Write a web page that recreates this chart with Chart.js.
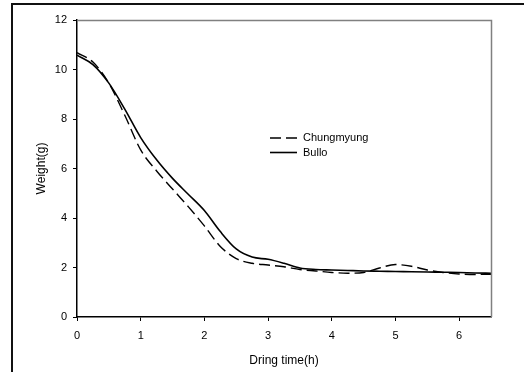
<!DOCTYPE html>
<html>
<head>
<meta charset="utf-8">
<script src="https://cdn.jsdelivr.net/npm/chart.js@4.4.0/dist/chart.umd.min.js"></script>
<style>
	html, body { margin: 0; padding: 0; background: #fff; }
	#wrap { position: relative; width: 524px; height: 372px; }
	#frame { position: absolute; left: 11px; top: 3px; width: 520px; height: 380px;
		border-top: 2px solid #111; border-left: 2px solid #111; }
	canvas { position: absolute; left: 0; top: 0; }
</style>
</head>
<body>
<div id="wrap">
	<div id="frame"></div>
	<canvas id="drying-chart" width="524" height="372"></canvas>
</div>
<script>
	/** 데이터 **/
	let times = [0, 0.25, 0.5, 0.75, 1, 1.25, 1.5, 1.75, 2, 2.25, 2.5, 2.75, 3, 3.25, 3.5, 3.75, 4, 4.25, 4.5, 4.75, 5, 5.25, 5.5, 5.75, 6, 6.25, 6.5];
	let chungmyung = [10.68, 10.3, 9.45, 8.15, 6.75, 5.9, 5.17, 4.45, 3.68, 2.85, 2.36, 2.17, 2.1, 2.03, 1.92, 1.86, 1.8, 1.77, 1.8, 1.98, 2.12, 2.05, 1.9, 1.8, 1.74, 1.72, 1.73];
	let bullo = [10.58, 10.2, 9.45, 8.4, 7.25, 6.35, 5.6, 4.95, 4.3, 3.45, 2.75, 2.42, 2.33, 2.17, 1.98, 1.92, 1.9, 1.88, 1.86, 1.85, 1.84, 1.83, 1.82, 1.81, 1.8, 1.78, 1.77];
	let seriesNames = ['Chungmyung', 'Bullo'];
	let xTitle = 'Dring time(h)';
	let yTitle = 'Weight(g)';

	let font = 'Liberation Sans, Arial, sans-serif';

	/** 차트 테두리 + 범례 **/
	const framePlugin = {
		id: 'framePlugin',
		afterDraw(chart) {
			const ctx = chart.ctx;
			const a = chart.chartArea;
			ctx.save();
			ctx.strokeStyle = '#808080';
			ctx.lineWidth = 1.5;
			ctx.beginPath();
			ctx.moveTo(a.left, a.top + 0.5);
			ctx.lineTo(a.right + 0.5, a.top + 0.5);
			ctx.lineTo(a.right + 0.5, a.bottom);
			ctx.stroke();

			// legend
			ctx.font = '11px ' + font;
			ctx.textBaseline = 'middle';
			ctx.fillStyle = '#000';
			chart.data.datasets.forEach(function(ds, i) {
				let y = 138 + i * 14.5;
				ctx.strokeStyle = '#000';
				ctx.lineWidth = ds.borderWidth;
				ctx.setLineDash(ds.borderDash || []);
				ctx.beginPath();
				ctx.moveTo(270, y);
				ctx.lineTo(297, y);
				ctx.stroke();
				ctx.setLineDash([]);
				ctx.fillText(ds.label, 303, y);
			});
			ctx.restore();
		}
	};

	let dryingChart = new Chart(document.getElementById('drying-chart'), {
		type: 'line',
		data: {
			datasets: [{
				label: seriesNames[0],
				data: times.map(function(t, i) { return {x: t, y: chungmyung[i]}; }),
				borderColor: '#000',
				borderWidth: 1.4,
				borderDash: [11, 5],
				pointRadius: 0,
				cubicInterpolationMode: 'monotone',
				fill: false
			}, {
				label: seriesNames[1],
				data: times.map(function(t, i) { return {x: t, y: bullo[i]}; }),
				borderColor: '#000',
				borderWidth: 1.6,
				pointRadius: 0,
				cubicInterpolationMode: 'monotone',
				fill: false
			}]
		},
		options: {
			responsive: false,
			animation: false,
			layout: { padding: { left: 30, right: 33, top: 20, bottom: 0 } },
			plugins: { legend: { display: false }, tooltip: { enabled: false } },
			scales: {
				x: {
					type: 'linear',
					min: 0,
					max: 6.5,
					afterBuildTicks: function(axis) {
						axis.ticks = axis.ticks.filter(function(t) { return Number.isInteger(t.value); });
					},
					afterFit: function(axis) { axis.height = 55; },
					ticks: { stepSize: 1, color: '#000', font: { family: font, size: 11 }, padding: 8, maxRotation: 0 },
					grid: { drawOnChartArea: false, drawTicks: true, tickLength: 4, tickColor: '#000' },
					border: { display: true, color: '#000', width: 1.5 },
					title: { display: true, text: xTitle, color: '#000', font: { family: font, size: 12 }, padding: { top: 2 } }
				},
				y: {
					min: 0,
					max: 12,
					afterFit: function(axis) { axis.width = 47; },
					ticks: { stepSize: 2, color: '#000', font: { family: font, size: 11 }, padding: 6 },
					grid: { drawOnChartArea: false, drawTicks: true, tickLength: 4, tickColor: '#000' },
					border: { display: true, color: '#000', width: 1.5 },
					title: { display: true, text: yTitle, color: '#000', font: { family: font, size: 12 }, padding: { bottom: 0 } }
				}
			}
		},
		plugins: [framePlugin]
	});
</script>
</body>
</html>
